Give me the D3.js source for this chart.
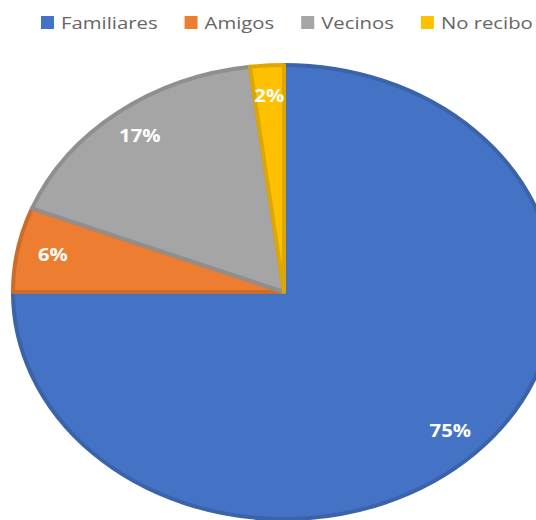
<!DOCTYPE html>
<html>
<head>
<meta charset="utf-8">
<script src="https://cdn.jsdelivr.net/npm/d3@7/dist/d3.min.js"></script>
<style>
  html, body { margin: 0; padding: 0; background: #fff; }
  svg { display: block; }
</style>
</head>
<body>
<svg id="chart" width="536" height="520"></svg>
<script>
// Tipo de ayuda recibida (porcentaje de respuestas)
const categories = ["Familiares", "Amigos", "Vecinos", "No recibo"];
const values = [75, 6, 17, 2];
const colors = ["#4472C4", "#ED7D31", "#A5A5A5", "#FFC000"];

const width = 536, height = 520;
const cx = 284, cy = 292;
const ry = 227;           // vertical radius
const stretch = 1.194;    // horizontal stretch of the pie (ellipse)
const labelR = 197;

const svg = d3.select("#chart");

const pie = d3.pie().sort(null).value(d => d.value).startAngle(0).endAngle(2 * Math.PI);
const data = categories.map((c, i) => ({ name: c, value: values[i], color: colors[i] }));
const arcs = pie(data);

const arc = d3.arc().innerRadius(0).outerRadius(ry);
const labelArc = d3.arc().innerRadius(labelR).outerRadius(labelR);

const g = svg.append("g")
  .attr("transform", `translate(${cx},${cy}) scale(${stretch},1)`);

g.selectAll("path")
  .data(arcs)
  .join("path")
  .attr("d", arc)
  .attr("fill", d => d.data.color)
  .attr("stroke", d => d3.color(d.data.color).darker(0.4))
  .attr("stroke-width", 4)
  .attr("stroke-linejoin", "round")
  .attr("vector-effect", "non-scaling-stroke");

// Percentage labels
const total = d3.sum(values);
svg.append("g").selectAll("text")
  .data(arcs)
  .join("text")
  .attr("transform", d => {
    const [x, y] = labelArc.centroid(d);
    return `translate(${cx + x * stretch},${cy + y}) scale(${stretch},1)`;
  })
  .attr("text-anchor", "middle")
  .attr("dy", "0.36em")
  .attr("font-family", "'Open Sans', sans-serif")
  .attr("font-weight", "bold")
  .attr("font-size", 17)
  .attr("fill", "#fff")
  .text(d => Math.round(d.data.value / total * 100) + "%");

// Legend
const legend = svg.append("g").attr("class", "legend");
const sq = 13, gapText = 7, gapItem = 27, legendY = 22.5;
let x = 41;
data.forEach(d => {
  legend.append("rect")
    .attr("x", x).attr("y", legendY - sq / 2)
    .attr("width", sq).attr("height", sq)
    .attr("fill", d.color);
  const t = legend.append("text")
    .attr("transform", `translate(${x + sq + gapText},${legendY}) scale(${stretch},1)`)
    .attr("dy", "0.36em")
    .attr("font-family", "'Open Sans', sans-serif")
    .attr("font-size", 17)
    .attr("fill", "#666")
    .text(d.name);
  const w = t.node().getComputedTextLength() * stretch;
  x += sq + gapText + w + gapItem;
});
</script>
</body>
</html>
